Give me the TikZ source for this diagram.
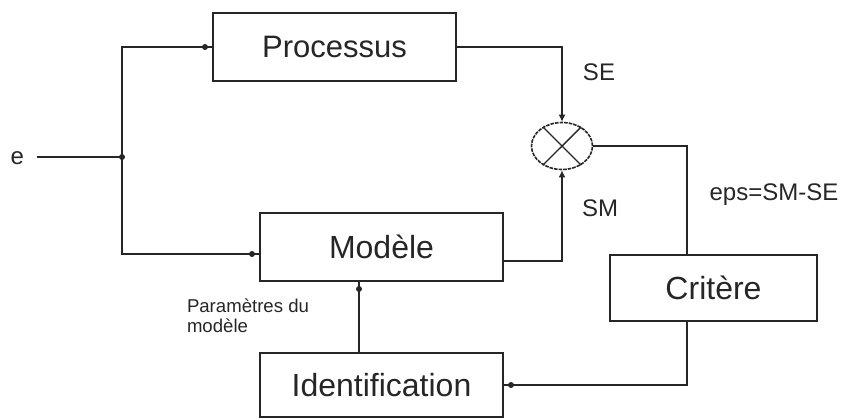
\documentclass[tikz,border=0pt]{standalone}
\usepackage{fontspec}
\setmainfont{Liberation Sans}
\usetikzlibrary{shapes.geometric,arrows.meta,decorations.markings}

\begin{document}
\begin{tikzpicture}[x=0.5pt, y=-0.5pt, line width=1pt, color=black!85,
    bloc/.style={draw, rectangle, inner sep=0pt, minimum width=121.5pt,
      minimum height=34pt, font=\fontsize{16}{19}\selectfont},
    etiq/.style={inner sep=0pt, font=\fontsize{12}{14}\selectfont},
    pointe/.style={postaction={decorate, decoration={markings,
      mark=at position -3.5pt with {\fill circle (1.5pt);}}}},
    fleche/.style={-{Latex[length=3.5pt,width=3.5pt]}}]
    \useasboundingbox (0,0) rectangle (842,419);

    % blocs
    \node[bloc, font=\fontsize{15.5}{18}\selectfont] (proc) at (334.5,47) {Processus};
    \node[bloc] (modele) at (381.5,247) {Mod\`ele};
    \node[bloc, minimum height=32pt] (ident) at (381.5,385) {Identification};
    \node[bloc, minimum width=103.5pt, minimum height=33pt] (crit) at (713.5,288) {Crit\`ere};

    % comparateur
    \node[draw, ellipse, inner sep=0pt, minimum width=30.5pt, minimum height=23.5pt,
      line width=0.8pt, dash pattern=on 1.8pt off 0.5pt] (sum) at (562,146) {};
    \draw[line width=0.7pt] (sum.135) -- (sum.-45) (sum.45) -- (sum.-135);

    % entree
    \node[etiq, anchor=east] (e) at (25,158) {e};
    \coordinate (noeud) at (122,157);
    \draw ([xshift=6pt]e.east |- noeud) -- (noeud);
    \fill (noeud) circle (1.5pt);
    \draw[pointe] (noeud) |- (proc.west);
    \draw[pointe] (noeud) |- ([yshift=-3.5pt]modele.west);

    % sorties vers le comparateur
    \draw[fleche] (proc.east) -| (sum.north);
    \draw[fleche] ([yshift=-7pt]modele.east) -| (sum.south);

    % boucle d'identification
    \draw (sum.east) -| ([xshift=-13.25pt]crit.north);
    \draw[pointe] ([xshift=-13.25pt]crit.south) |- (ident.east);
    \draw[pointe] ([xshift=-11.25pt]ident.north) -- ([xshift=-11.25pt]modele.south);

    % textes
    \node[etiq] (se) at (599,72) {SE};
    \node[etiq] (sm) at (600,208) {SM};
    \node[etiq] (eps) at (774,195) {eps=SM-SE};
    \node[inner sep=0pt, anchor=north west, align=left,
      font=\fontsize{9.3}{9.8}\selectfont] (param) at (186,298) {Param\`etres du\\mod\`ele};

\end{tikzpicture}
\end{document}
